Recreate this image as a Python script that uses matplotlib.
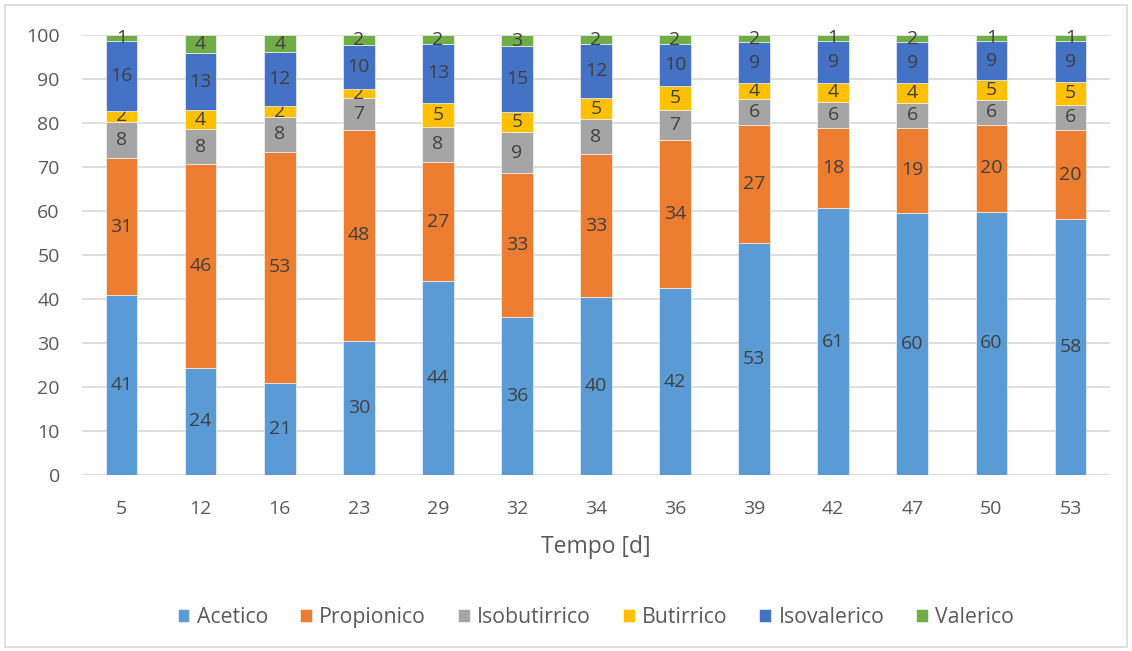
import numpy as np
import matplotlib.pyplot as plt
from matplotlib.patches import Rectangle

plt.rcParams['font.family'] = ['Open Sans', 'DejaVu Sans']

# giorni di campionamento
tempo = ['5', '12', '16', '23', '29', '32', '34', '36', '39', '42', '47', '50', '53']

# percentuali degli acidi grassi volatili
acetico      = [40.9, 24.4, 20.9, 30.4, 44.1, 36.0, 40.4, 42.4, 52.7, 60.6, 59.6, 59.8, 58.1]
propionico   = [31.1, 46.2, 52.6, 48.1, 27.0, 32.6, 32.6, 33.8, 26.8, 18.3, 19.3, 19.8, 20.3]
isobutirrico = [8.3, 8.0, 7.9, 7.2, 8.1, 9.3, 7.8, 6.7, 6.0, 5.9, 5.7, 5.6, 5.8]
butirrico    = [2.4, 4.3, 2.4, 2.0, 5.4, 4.7, 4.8, 5.4, 3.7, 4.4, 4.4, 4.6, 5.1]
isovalerico  = [15.9, 13.0, 12.3, 10.0, 13.3, 14.8, 12.3, 9.6, 9.1, 9.4, 9.3, 8.8, 9.3]
valerico     = [1.4, 4.1, 3.9, 2.3, 2.1, 2.6, 2.1, 2.1, 1.7, 1.4, 1.7, 1.4, 1.4]

serie = [
    ('Acetico', acetico, '#5B9BD5'),
    ('Propionico', propionico, '#ED7D31'),
    ('Isobutirrico', isobutirrico, '#A5A5A5'),
    ('Butirrico', butirrico, '#FFC000'),
    ('Isovalerico', isovalerico, '#4472C4'),
    ('Valerico', valerico, '#70AD47'),
]

testo = '#595959'

fig = plt.figure(figsize=(11.32, 6.51), dpi=100)
ax = fig.add_axes([82 / 1132, 176 / 651, 1028 / 1132, 440 / 651])

# bordo del grafico
fig.patches.append(Rectangle((5 / 1132, 4 / 651), 1122 / 1132, 642 / 651,
                             transform=fig.transFigure, fill=False,
                             edgecolor='#d9d9d9', linewidth=1.2))

x = np.arange(len(tempo))
base = np.zeros(len(tempo))
for nome, valori, colore in serie:
    valori = np.array(valori)
    barre = ax.bar(x, valori, 0.4, bottom=base, color=colore, label=nome,
                   edgecolor='white', linewidth=0.4, zorder=3)
    ax.bar_label(barre, labels=['%.0f' % v for v in valori], label_type='center',
                 color='#404040', fontsize=14)
    base += valori

ax.set_xlim(-0.5, len(tempo) - 0.5)
ax.set_ylim(0, 100)
ax.set_yticks(range(0, 101, 10))
ax.set_xticks(x)
ax.set_xticklabels(tempo)
ax.yaxis.grid(True, color='#d9d9d9', linewidth=1.2, zorder=0)
for s in ax.spines.values():
    s.set_visible(False)
ax.axhline(0, color='#d9d9d9', linewidth=1.2, zorder=1)
ax.tick_params(axis='both', length=0, labelsize=14, labelcolor=testo)
ax.tick_params(axis='y', pad=16)
ax.tick_params(axis='x', pad=18)
ax.set_xlabel('Tempo [d]', fontsize=16.5, color=testo, labelpad=12)

ax.legend(loc='center', bbox_to_anchor=(0.5, -0.324), ncol=6, frameon=False,
          fontsize=15.3, labelcolor=testo, handlelength=0.55, handleheight=0.55,
          handletextpad=0.35, columnspacing=1.5)

plt.savefig('out.png', dpi=100)
